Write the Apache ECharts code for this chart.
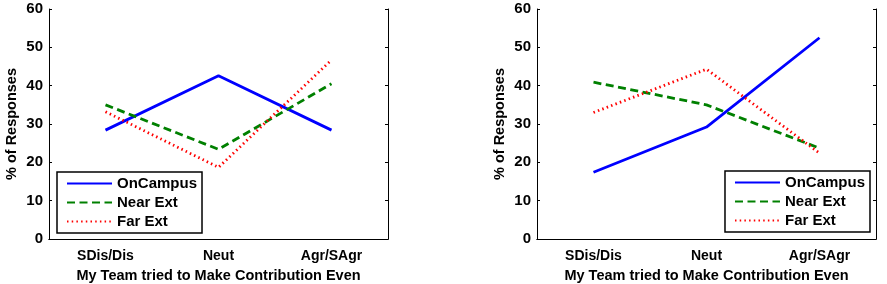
<!DOCTYPE html>
<html>
<head>
<meta charset="utf-8">
<script src="https://cdn.jsdelivr.net/npm/echarts@6/dist/echarts.min.js"></script>
<style>
  html, body { margin: 0; padding: 0; background: #fff; }
  #main { width: 887px; height: 284px; }
</style>
</head>
<body>
<div id="main"></div>
<script>
// categories and values
var categories = ['SDis/Dis', 'Neut', 'Agr/SAgr'];
var seriesNames = ['OnCampus', 'Near Ext', 'Far Ext'];

var onCampusLeft = [28.4, 42.6, 28.4];
var nearExtLeft = [35.0, 23.4, 40.5];
var farExtLeft = [33.2, 18.7, 46.7];

var onCampusRight = [17.4, 29.2, 52.5];
var nearExtRight = [40.9, 35.0, 23.7];
var farExtRight = [33.0, 44.3, 22.4];

var font = 'Liberation Sans, Arial, sans-serif';
var colors = ['#0000ff', '#008000', '#ff0000'];
var dashes = ['solid', [8, 4.5], [1.5, 3.2]];

var myChart = echarts.init(document.getElementById('main'));

function axesFor(gi) {
    var xs = [{
        type: 'category', gridIndex: gi, data: categories, position: 'bottom',
        axisLine: { lineStyle: { color: '#000', width: 1 } },
        axisTick: { inside: true, length: 3, alignWithLabel: true, interval: 0, lineStyle: { color: '#000' } },
        axisLabel: { color: '#000', fontFamily: font, fontWeight: 'bold', fontSize: 14, margin: 10, interval: 0 },
        name: 'My Team tried to Make Contribution Even',
        nameLocation: 'middle', nameGap: 29,
        nameTextStyle: { color: '#000', fontFamily: font, fontWeight: 'bold', fontSize: 14.5 }
    }, {
        type: 'category', gridIndex: gi, data: categories, position: 'top',
        axisLine: { lineStyle: { color: '#000', width: 1 } },
        axisTick: { inside: true, length: 3, alignWithLabel: true, interval: 0, lineStyle: { color: '#000' } },
        axisLabel: { show: false }
    }];
    var ys = [{
        type: 'value', gridIndex: gi, min: 0, max: 60, interval: 10, position: 'left',
        axisLine: { show: true, lineStyle: { color: '#000', width: 1 } },
        axisTick: { show: true, inside: true, length: 3, lineStyle: { color: '#000' } },
        splitLine: { show: false },
        axisLabel: { color: '#000', fontFamily: font, fontWeight: 'bold', fontSize: 15, margin: 6 },
        name: '% of Responses', nameLocation: 'middle', nameGap: 30, nameRotate: 90,
        nameTextStyle: { color: '#000', fontFamily: font, fontWeight: 'bold', fontSize: 14.5 }
    }, {
        type: 'value', gridIndex: gi, min: 0, max: 60, interval: 10, position: 'right',
        axisLine: { show: true, lineStyle: { color: '#000', width: 1 } },
        axisTick: { show: true, inside: true, length: 3, lineStyle: { color: '#000' } },
        splitLine: { show: false },
        axisLabel: { show: false }
    }];
    return { xs: xs, ys: ys };
}

var a0 = axesFor(0);
var a1 = axesFor(1);

function makeSeries(values, i, xi, yi) {
    return {
        name: seriesNames[i], type: 'line', data: values,
        xAxisIndex: xi, yAxisIndex: yi,
        symbol: 'none', silent: true, animation: false,
        lineStyle: { color: colors[i], width: 2.8, type: dashes[i] },
        itemStyle: { color: colors[i] }
    };
}

var legendBase = {
    orient: 'vertical',
    itemWidth: 45, itemHeight: 14, itemGap: 4,
    padding: [4, 5, 4, 9],
    borderColor: '#000', borderWidth: 1.5, backgroundColor: '#fff',
    selectedMode: false,
    itemStyle: { opacity: 0 },
    textStyle: { color: '#000', fontFamily: font, fontWeight: 'bold', fontSize: 15, lineHeight: 15 }
};

var option = {
    animation: false,
    grid: [
        { left: 49, right: 499, top: 9, bottom: 45, outerBoundsMode: 'none' },
        { left: 537, right: 11, top: 9, bottom: 45, outerBoundsMode: 'none' }
    ],
    xAxis: a0.xs.concat(a1.xs),
    yAxis: a0.ys.concat(a1.ys),
    legend: [
        Object.assign({}, legendBase, {
            left: 57, top: 172,
            data: seriesNames.map(function (n) { return { name: n }; })
        }),
        Object.assign({}, legendBase, {
            right: 17, top: 171,
            data: seriesNames.map(function (n) { return { name: n }; })
        })
    ],
    series: [
        makeSeries(onCampusLeft, 0, 0, 0),
        makeSeries(nearExtLeft, 1, 0, 0),
        makeSeries(farExtLeft, 2, 0, 0),
        makeSeries(onCampusRight, 0, 2, 2),
        makeSeries(nearExtRight, 1, 2, 2),
        makeSeries(farExtRight, 2, 2, 2)
    ]
};

myChart.setOption(option);
</script>
</body>
</html>
